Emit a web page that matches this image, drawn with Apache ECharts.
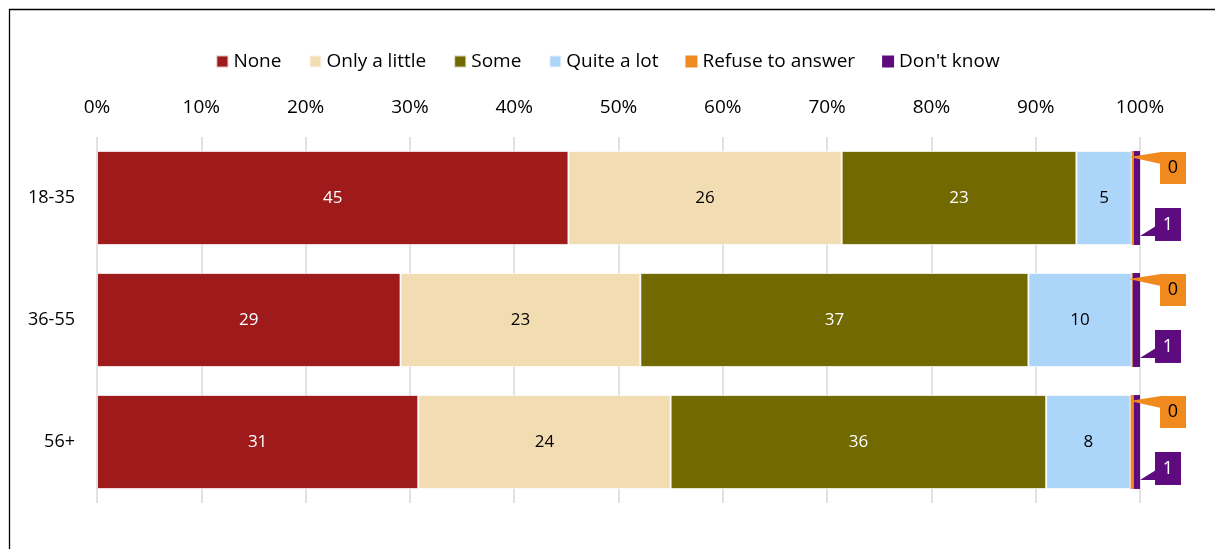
<!DOCTYPE html>
<html>
<head>
<meta charset="utf-8">
<script src="https://cdn.jsdelivr.net/npm/echarts@6/dist/echarts.min.js"></script>
<style>
  html, body { margin: 0; padding: 0; background: #fff; }
  #chart { width: 1215px; height: 549px; }
</style>
</head>
<body>
<div id="chart"></div>
<script>
// 年龄组 × 回答分布，100% 堆叠横向条形图；拒答 / 不知道用标注框显示
const categories = ['18-35', '36-55', '56+']
const seriesNames = ['None', 'Only a little', 'Some', 'Quite a lot', 'Refuse to answer', "Don't know"]
const none = [45.2, 29.1, 30.8]
const onlyLittle = [26.2, 23.0, 24.2]
const some = [22.5, 37.2, 36.0]
const quiteLot = [5.3, 9.9, 8.1]
const refuse = [0.2, 0.1, 0.3]
const dontKnow = [0.6, 0.7, 0.6]
const tickLabels = ['0%', '10%', '20%', '30%', '40%', '50%', '60%', '70%', '80%', '90%', '100%']

const colors = ['#9e1a1b', '#f2dcb2', '#726900', '#acd5fa', '#f08a1e', '#5f0b80']
const labelColors = ['#fff', '#000', '#fff', '#000']
const FONT = '"Open Sans", sans-serif'

const values = [none, onlyLittle, some, quiteLot, refuse, dontKnow]

// 累计到拒答末端 / 不知道末端的位置（标注框指针指向这里）
const cumTo = (k, i) => values.slice(0, k + 1).reduce((s, arr) => s + arr[i], 0)
const calloutData = []
categories.forEach((c, i) => {
  calloutData.push([cumTo(4, i), i, 0, Math.round(refuse[i])])
  calloutData.push([cumTo(5, i), i, 1, Math.round(dontKnow[i])])
})

const chart = echarts.init(document.getElementById('chart'), null, { renderer: 'canvas' })

const barSeries = values.map((arr, k) => ({
  name: seriesNames[k],
  type: 'bar',
  stack: 'total',
  barWidth: '77%',
  data: arr,
  itemStyle: { color: colors[k], borderColor: 'rgba(255,255,255,0.7)', borderWidth: k >= 4 ? 0 : 1 },
  label: k < 4 ? {
    show: true,
    position: 'inside',
    color: labelColors[k],
    fontFamily: FONT,
    fontSize: 17,
    formatter: p => Math.round(p.value),
  } : { show: false },
  emphasis: { disabled: true },
}))

function renderCallout(params, api) {
  const end = api.value(0)
  const cat = api.value(1)
  const kind = api.value(2)
  const txt = String(api.value(3))
  const c = api.coord([end, cat])
  const h = api.size([0, 1])[1] * 0.77
  const top = c[1] - h / 2
  const bot = c[1] + h / 2
  const x100 = api.coord([100, cat])[0]
  let box, wedge, fill, color
  if (kind === 0) {
    box = { x: x100 + 20, y: top + 1, width: 26, height: 32 }
    wedge = [[c[0] - 4, top + 6], [box.x + 1, top + 1], [box.x + 1, top + 13]]
    fill = colors[4]; color = '#000'
  } else {
    box = { x: x100 + 15, y: bot - 37, width: 26, height: 33 }
    wedge = [[c[0], bot - 9], [box.x + 1, bot - 19], [box.x + 1, bot - 9]]
    fill = colors[5]; color = '#fff'
  }
  return {
    type: 'group',
    children: [
      { type: 'polygon', shape: { points: wedge }, style: { fill } },
      { type: 'rect', shape: box, style: { fill } },
      {
        type: 'text',
        style: {
          text: txt, x: box.x + box.width / 2, y: box.y + box.height / 2,
          align: 'center', verticalAlign: 'middle',
          fill: color, fontSize: 18, fontFamily: FONT,
        },
      },
    ],
  }
}

chart.setOption({
  backgroundColor: '#fff',
  animation: false,
  graphic: [{
    type: 'rect', left: 7, top: 7, silent: true,
    shape: { width: 1400, height: 700 },
    style: { fill: 'none', stroke: '#000', lineWidth: 1.3 },
  }],
  legend: {
    data: seriesNames,
    top: 47,
    left: 'center',
    icon: 'rect',
    itemWidth: 12,
    itemHeight: 12,
    itemGap: 27,
    textStyle: { fontFamily: FONT, fontSize: 19, color: '#000' },
  },
  grid: { left: 97, right: 75, top: 137, bottom: 46 },
  xAxis: {
    type: 'value',
    position: 'top',
    min: 0, max: 100, interval: 10,
    axisLine: { show: false },
    axisTick: { show: false },
    axisLabel: {
      margin: 20, color: '#000', fontFamily: FONT, fontSize: 19,
      formatter: v => tickLabels[Math.round(v / 10)],
    },
    splitLine: { lineStyle: { color: '#d9d9d9', width: 1.5 } },
  },
  yAxis: {
    type: 'category',
    inverse: true,
    data: categories,
    axisLine: { show: false },
    axisTick: { show: false },
    axisLabel: { margin: 22, color: '#000', fontFamily: FONT, fontSize: 18 },
  },
  series: [
    ...barSeries,
    {
      type: 'custom',
      name: 'callouts',
      renderItem: renderCallout,
      encode: { x: 0, y: 1 },
      data: calloutData,
      clip: false,
      z: 10,
      silent: true,
    },
  ],
})
</script>
</body>
</html>
